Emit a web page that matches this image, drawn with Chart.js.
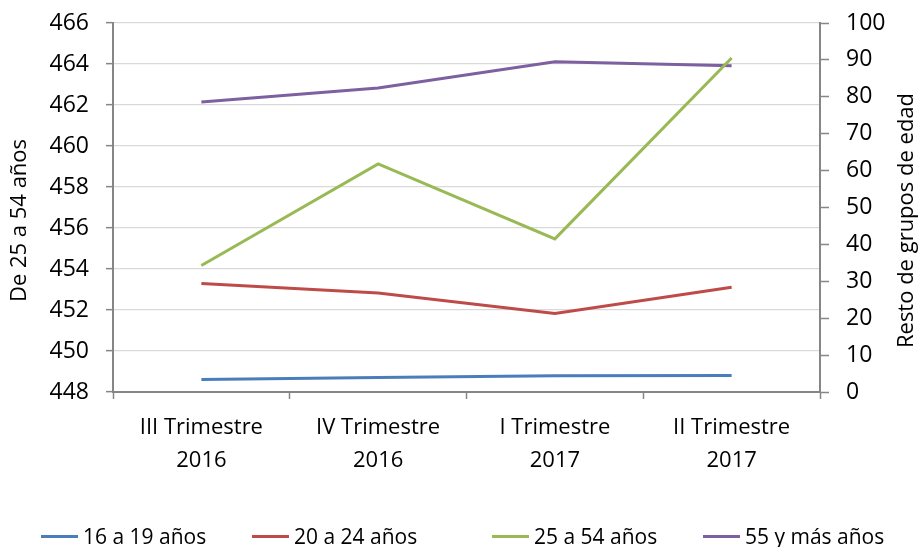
<!DOCTYPE html>
<html><head><meta charset="utf-8">
<script src="https://cdn.jsdelivr.net/npm/chart.js@4.4.1/dist/chart.umd.min.js"></script>
<style>
html,body{margin:0;padding:0;background:#fff}
#wrap{width:920px;height:547px;position:relative;overflow:hidden}
#legend{position:absolute;left:0;top:0;width:920px;height:547px;pointer-events:none}
.li{position:absolute;top:524px;height:24px;line-height:24px;font:21px "Open Sans","Noto Sans",sans-serif;color:#000;white-space:nowrap;display:flex;align-items:center}
.li i{display:inline-block;width:37px;height:3px;margin-right:5px}
</style>
</head><body><div id="wrap"><canvas id="c"></canvas><div id="legend"></div></div>
<script>
const categories = [["III Trimestre","2016"],["IV Trimestre","2016"],["I Trimestre","2017"],["II Trimestre","2017"]];
const seriesNames = ["16 a 19 años","20 a 24 años","25 a 54 años","55 y más años"];
const s16a19 = [3.4, 3.9, 4.4, 4.5];
const s20a24 = [29.4, 26.8, 21.3, 28.4];
const s25a54 = [454.17, 459.13, 455.47, 464.29];
const s55mas = [78.6, 82.4, 89.5, 88.4];
const leftTicks = [448,450,452,454,456,458,460,462,464,466];
const rightTicks = [0,10,20,30,40,50,60,70,80,90,100];
const leftTitle = "De 25 a 54 años";
const rightTitle = "Resto de grupos de edad";

const FONT = '"Open Sans", "Noto Sans", sans-serif';
const AXIS = '#868686';
const colors = ['#4A7EBB', '#BE4B48', '#98B954', '#7D60A0'];
const values = [s16a19, s20a24, s25a54, s55mas];
const axisIds = ['y1', 'y1', 'y', 'y1'];
const legendLefts = [41, 252, 492, 703];

const axisTitles = {
  id: 'axisTitles',
  afterDraw(chart) {
    const ctx = chart.ctx, ca = chart.chartArea;
    const cy = (ca.top + ca.bottom) / 2 + 13;
    [[20, leftTitle], [chart.width - 13, rightTitle]].forEach(([x, t]) => {
      ctx.save();
      ctx.font = '22px ' + FONT;
      ctx.fillStyle = '#000';
      ctx.textAlign = 'center';
      ctx.textBaseline = 'middle';
      ctx.translate(x, cy); ctx.rotate(-Math.PI / 2); ctx.fillText(t, 0, 0);
      ctx.restore();
    });
  }
};

const chart = new Chart(document.getElementById('c'), {
  type: 'line',
  data: {
    labels: categories,
    datasets: seriesNames.map((n, i) => ({
      label: n, data: values[i], yAxisID: axisIds[i],
      borderColor: colors[i], backgroundColor: colors[i],
      borderWidth: 3, pointRadius: 0, tension: 0, fill: false
    }))
  },
  options: {
    responsive: true, maintainAspectRatio: false, animation: false,
    layout: { padding: { top: 23, bottom: 0, left: 0, right: 0 } },
    plugins: { tooltip: { enabled: false }, legend: { display: false } },
    scales: {
      x: {
        offset: true,
        grid: { offset: true, drawOnChartArea: false, drawTicks: true, tickLength: 7, tickColor: AXIS, tickWidth: 1.5 },
        border: { color: AXIS, width: 2 },
        ticks: { font: { family: FONT, size: 22, lineHeight: 1.5 }, color: '#000', padding: 12.5, maxRotation: 0, autoSkip: false },
        afterFit(s) { s.height = 155; }
      },
      y: {
        position: 'left',
        min: leftTicks[0], max: leftTicks[leftTicks.length - 1],
        afterBuildTicks(s) { s.ticks = leftTicks.map(v => ({ value: v })); },
        grid: { color: '#d9d9d9', lineWidth: 1.3, tickLength: 7, tickColor: AXIS, tickWidth: 1.5 },
        border: { color: AXIS, width: 2 },
        ticks: { font: { family: FONT, size: 23 }, color: '#000', padding: 17, autoSkip: false },
        afterFit(s) { s.width = 113; s.paddingTop = 0; s.paddingBottom = 0; }
      },
      y1: {
        position: 'right',
        min: rightTicks[0], max: rightTicks[rightTicks.length - 1],
        afterBuildTicks(s) { s.ticks = rightTicks.map(v => ({ value: v })); },
        grid: { drawOnChartArea: false, tickLength: 9, tickColor: AXIS, tickWidth: 1.5 },
        border: { color: AXIS, width: 2 },
        ticks: { font: { family: FONT, size: 23 }, color: '#000', padding: 17, autoSkip: false },
        afterFit(s) { s.width = 100; s.paddingTop = 0; s.paddingBottom = 0; }
      }
    }
  },
  plugins: [axisTitles]
});

const lg = document.getElementById('legend');
chart.data.datasets.forEach((ds, i) => {
  const d = document.createElement('div');
  d.className = 'li';
  d.style.left = legendLefts[i] + 'px';
  const sw = document.createElement('i');
  sw.style.background = ds.borderColor;
  d.appendChild(sw);
  d.appendChild(document.createTextNode(ds.label));
  lg.appendChild(d);
});
</script>
</body></html>
